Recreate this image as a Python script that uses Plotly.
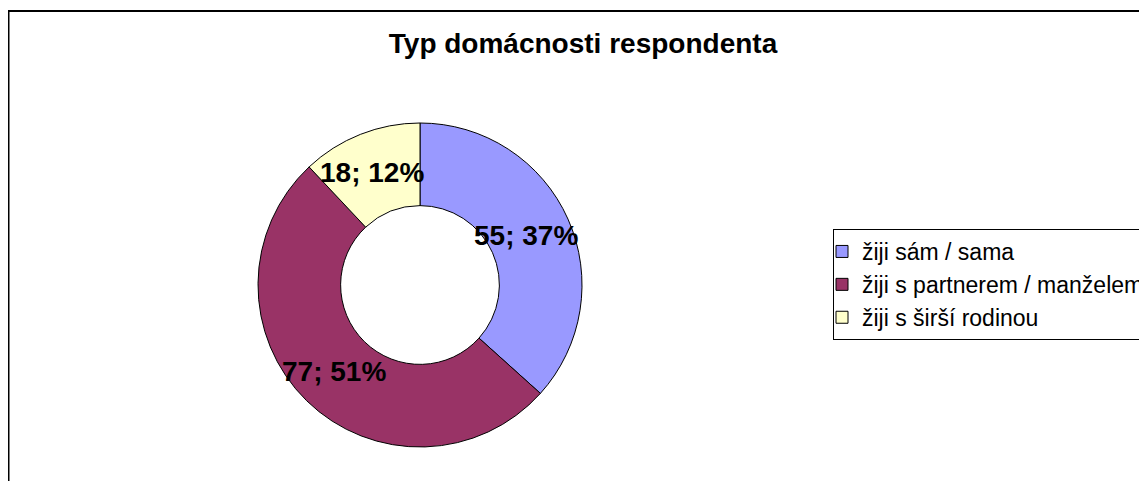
import plotly.graph_objects as go

categories = ["žiji sám / sama", "žiji s partnerem / manželem", "žiji s širší rodinou"]
values = [55, 77, 18]
colors = ["#9999FF", "#993366", "#FFFFCC"]
title_text = "Typ domácnosti respondenta"

# page has an 8px body margin; figure drawn from (8, 8)
OFF = 8
W, H = 1147 - OFF, 481 - OFF
total = sum(values)
label_texts = [f"{v}; {round(100 * v / total)}%" for v in values]

# label centre positions (page pixels) for each slice label
label_px = [(526, 235), (334, 371), (372, 173)]

cx, cy, r = 420 - OFF, 285 - OFF, 162

fig = go.Figure(go.Pie(
    labels=categories,
    values=values,
    sort=False,
    direction="clockwise",
    rotation=0,
    hole=0.49,
    marker=dict(colors=colors, line=dict(color="black", width=1)),
    textinfo="none",
    hoverinfo="label+value+percent",
    domain=dict(x=[(cx - r) / W, (cx + r) / W], y=[(H - cy - r) / H, (H - cy + r) / H]),
))

FONT = "Liberation Sans, Arial, sans-serif"
annotations = []
for t, (px, py) in zip(label_texts, label_px):
    annotations.append(dict(
        text=f"<b>{t}</b>", x=(px - OFF) / W, y=1 - (py - OFF) / H, xref="paper", yref="paper",
        xanchor="center", yanchor="middle", showarrow=False,
        font=dict(family=FONT, size=28, color="black"),
    ))

fig.update_layout(
    width=W, height=H,
    margin=dict(l=0, r=0, t=0, b=0, autoexpand=False),
    paper_bgcolor="white", plot_bgcolor="white",
    font=dict(family=FONT, color="black"),
    title=dict(text=f"<b>{title_text}</b>", x=(583 - OFF) / W, xref="container", xanchor="center",
               y=1 - (43 - OFF) / H, yref="container", yanchor="middle",
               font=dict(size=28, color="black", family=FONT)),
    legend=dict(x=(833 - OFF) / W, y=1 - (229 - OFF) / H, xanchor="left", yanchor="top",
                font=dict(size=23, color="black", family=FONT),
                bordercolor="black", borderwidth=1, bgcolor="white", indentation=-12),
    annotations=annotations,
    shapes=[dict(type="rect", xref="paper", yref="paper",
                 x0=0.5 / W, x1=1.02, y0=-0.02, y1=1 - 3 / H,
                 line=dict(color="black", width=2), fillcolor="rgba(0,0,0,0)", layer="below")],
)

fig.write_html("out.html")
